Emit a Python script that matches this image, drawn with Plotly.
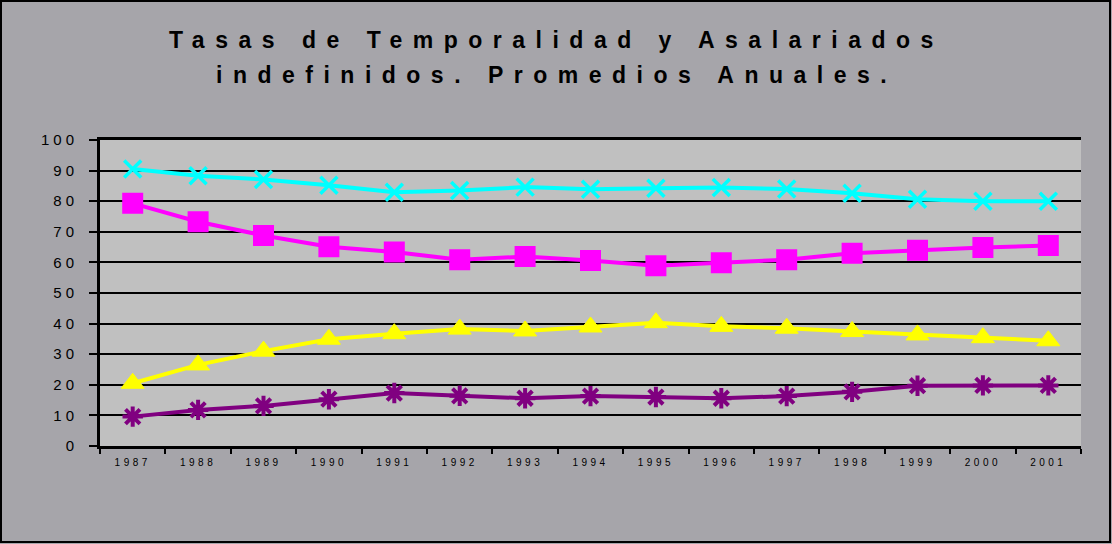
import plotly.graph_objects as go

years = ["1987", "1988", "1989", "1990", "1991", "1992", "1993", "1994",
         "1995", "1996", "1997", "1998", "1999", "2000", "2001"]
indef_total = [90.5, 88.3, 87.1, 85.2, 82.9, 83.5, 84.6, 83.9, 84.2, 84.5, 84.0, 82.6, 80.6, 80.0, 80.0]
indef_priv = [79.3, 73.3, 68.8, 65.1, 63.4, 60.9, 61.9, 60.6, 58.9, 59.9, 60.9, 63.0, 64.0, 64.9, 65.5]
temp_priv = [20.5, 26.5, 31.0, 34.9, 36.7, 38.2, 37.6, 38.9, 40.3, 39.1, 38.5, 37.4, 36.3, 35.4, 34.4]
temp_total = [9.6, 11.8, 13.1, 15.3, 17.3, 16.4, 15.6, 16.3, 16.0, 15.6, 16.3, 17.7, 19.7, 19.8, 19.8]
y_ticks = [0, 10, 20, 30, 40, 50, 60, 70, 80, 90, 100]
title_lines = ["Tasas de Temporalidad y Asalariados", "indefinidos. Promedios Anuales."]

FONT = "Liberation Sans, Arial, sans-serif"
W, H = 1112, 544
ML, MR, MT, MB = 100, 31, 140, 98
PW, PH = W - ML - MR, H - MT - MB


def spaced(t, px):
    return f'<span style="letter-spacing:{px}px">{t}</span>'


fig = go.Figure()
series = [
    (indef_total, "#00ffff", dict(symbol="x-thin", size=17, line=dict(width=3.5, color="#00ffff"))),
    (indef_priv, "#ff00ff", dict(symbol="square", size=19, color="#ff00ff", line=dict(width=2, color="#ff00ff"))),
    (temp_priv, "#ffff00", dict(symbol="triangle-up", size=20, color="#ffff00", line=dict(width=1, color="#ffff00"))),
    (temp_total, "#800080", dict(symbol="asterisk-open", size=17, line=dict(width=4, color="#800080"))),
]
for vals, col, mk in series:
    fig.add_trace(go.Scatter(x=years, y=vals, mode="lines+markers",
                             line=dict(color=col, width=4), marker=mk,
                             showlegend=False, cliponaxis=False))

fig.update_xaxes(type="category", tickmode="array", tickvals=years,
                 ticktext=[spaced(y, 3.5) for y in years],
                 tickson="boundaries", ticks="outside", ticklen=5, tickwidth=2,
                 tickcolor="black", showline=True, linecolor="black", linewidth=3,
                 mirror=True, showgrid=False, ticklabelstandoff=5,
                 tickfont=dict(family=FONT, size=10, color="black"),
                 range=[-0.5, len(years) - 0.5])
fig.update_yaxes(range=[0, 100], tickmode="array", tickvals=y_ticks,
                 ticktext=[spaced(str(v), 4) for v in y_ticks],
                 ticks="outside", ticklen=8, tickwidth=2, tickcolor="black",
                 showline=True, linecolor="black", linewidth=3,
                 showgrid=True, gridcolor="black", gridwidth=2,
                 zeroline=False, ticklabelstandoff=8,
                 tickfont=dict(family=FONT, size=15, color="black"))

for i, yy in enumerate([40, 75]):
    fig.add_annotation(text="<b>" + spaced(title_lines[i], 10.5) + "</b>",
                       xref="paper", yref="paper", x=(556 - ML) / PW, y=(MT + PH - yy) / PH,
                       showarrow=False, xanchor="center", yanchor="middle",
                       font=dict(family=FONT, size=23, color="black"))

fig.add_shape(type="rect", xref="paper", yref="paper",
              x0=(1 - ML) / PW, x1=(W - 2 - ML) / PW,
              y0=(MT + PH - (H - 2)) / PH, y1=(MT + PH - 1) / PH,
              line=dict(color="black", width=2), layer="below")

fig.update_layout(width=W, height=H, margin=dict(l=ML, r=MR, t=MT, b=MB),
                  paper_bgcolor="#a6a5aa", plot_bgcolor="#c0c0c0",
                  font=dict(family=FONT, color="black"))

fig.write_html("out.html", config={"displayModeBar": False},
               post_script="document.body.style.margin='0';")
